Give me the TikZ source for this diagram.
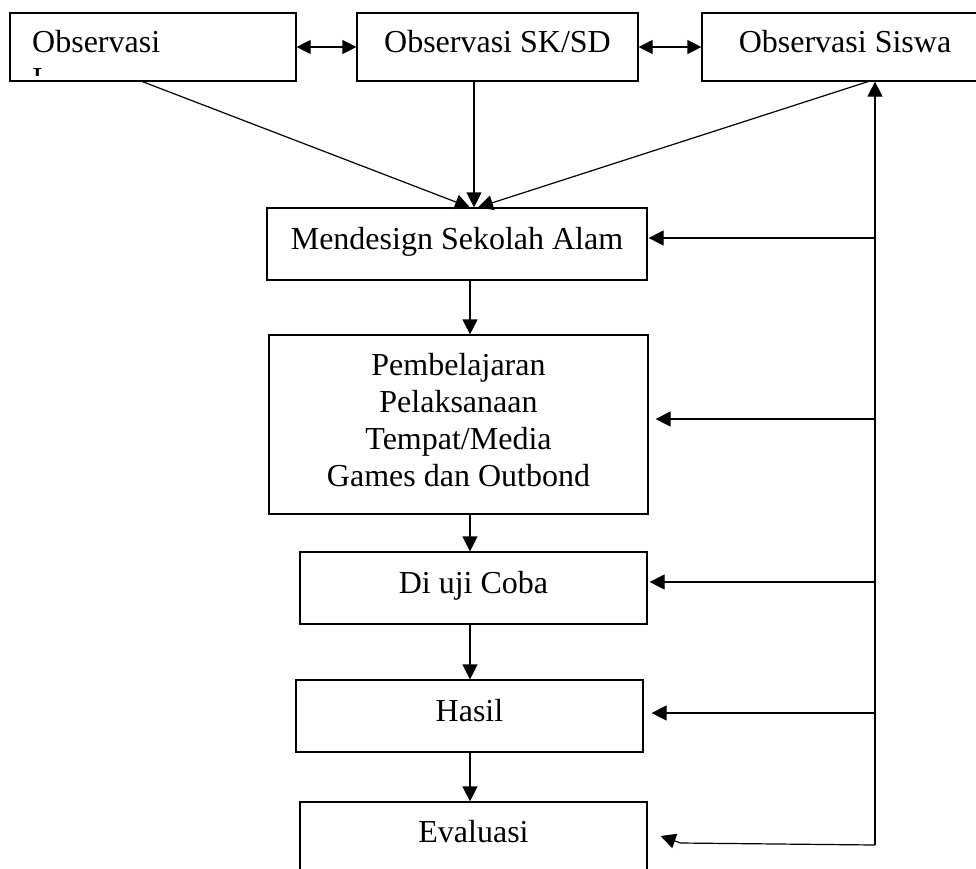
\documentclass[tikz,border=0pt]{standalone}
\usepackage{fontspec}
\setmainfont{Liberation Serif}
\usetikzlibrary{arrows.meta,calc}
\begin{document}
\begin{tikzpicture}[x=1pt,y=-1pt,
  box/.style={draw, line width=1.2pt, inner sep=0pt, font=\fontsize{32}{37}\selectfont, text height=21pt, text depth=11pt},
  txt/.style={inner sep=0pt, font=\fontsize{32}{37}\selectfont},
  conn/.style={line width=1.2pt, -{Triangle[length=15pt,width=15pt]}},
  dconn/.style={line width=1.2pt, {Triangle[length=14pt,width=14pt]}-{Triangle[length=14pt,width=14pt]}}]
\useasboundingbox (0,0) rectangle (976,868);
\clip (0,0) rectangle (976,868);

% top row
\node[box, minimum width=286pt, minimum height=68pt] (b1) at (153,47) {};
\node[txt, anchor=base west] (b1t) at (32,52) {Observasi};
\begin{scope}
  \clip (b1.north west) rectangle ($(b1.south east)+(0,-6)$);
  \node[txt, anchor=base west] (b1u) at (32,89) {I};
\end{scope}
\node[box, minimum width=281pt, minimum height=68pt] (b2) at (497.5,47) {Observasi SK/SD};
\node[box, minimum width=286pt, minimum height=68pt] (b3) at (845,47) {Observasi Siswa};

% main column
\node[box, minimum width=380pt, minimum height=72pt] (m) at (457,244) {Mendesign Sekolah Alam};
\node[box, minimum width=379pt, minimum height=179pt] (p) at (458.5,424.5) {};
\node[txt, align=center, anchor=north] (pt) at (458.5,353) {Pembelajaran\\Pelaksanaan\\Tempat/Media\\Games dan Outbond};
\node[box, minimum width=347pt, minimum height=72pt] (d) at (473.5,588) {Di uji Coba};
\node[box, minimum width=347pt, minimum height=72pt] (h) at (469.5,716) {Hasil};
\node[box, minimum width=347pt, minimum height=70pt] (e) at (473.5,837) {Evaluasi};

% helper coordinates
\coordinate (cx) at (470,0);
\coordinate (rx) at (875,0);
\coordinate (rb) at (875,845);
\coordinate (y1) at (0,238);
\coordinate (y2) at (0,419);
\coordinate (y3) at (0,582);
\coordinate (y4) at (0,713);

% top connectors
\draw[dconn] (b1.east) -- (b2.west);
\draw[dconn] (b2.east) -- (b3.west);
\draw[conn] ($(b1.south west)+(133,0)$) -- ($(m.north)+(13,0)$);
\draw[conn] ($(b2.south)+(-23.5,0)$) -- ($(m.north)+(17,0)$);
\draw[conn] ($(b3.south)+(23,0)$) -- ($(m.north)+(21,0)$);

% main flow
\draw[conn] (m.south -| cx) -- (p.north -| cx);
\draw[conn] (p.south -| cx) -- (d.north -| cx);
\draw[conn] (d.south -| cx) -- (h.north -| cx);
\draw[conn] (h.south -| cx) -- (e.north -| cx);

% feedback line
\draw[conn] (rb) -- (rx |- b3.south);
\draw[conn] (rx |- y1) -- ($(m.east |- y1)+(1,0)$);
\draw[conn] (rx |- y2) -- ($(p.east |- y2)+(7,0)$);
\draw[conn] (rx |- y3) -- ($(d.east |- y3)+(2,0)$);
\draw[conn] (rx |- y4) -- ($(h.east |- y4)+(8,0)$);
\draw[conn] (rb) -- ($(e.east)+(33,6)$) -- ($(e.east)+(13,-1)$);
\end{tikzpicture}
\end{document}
